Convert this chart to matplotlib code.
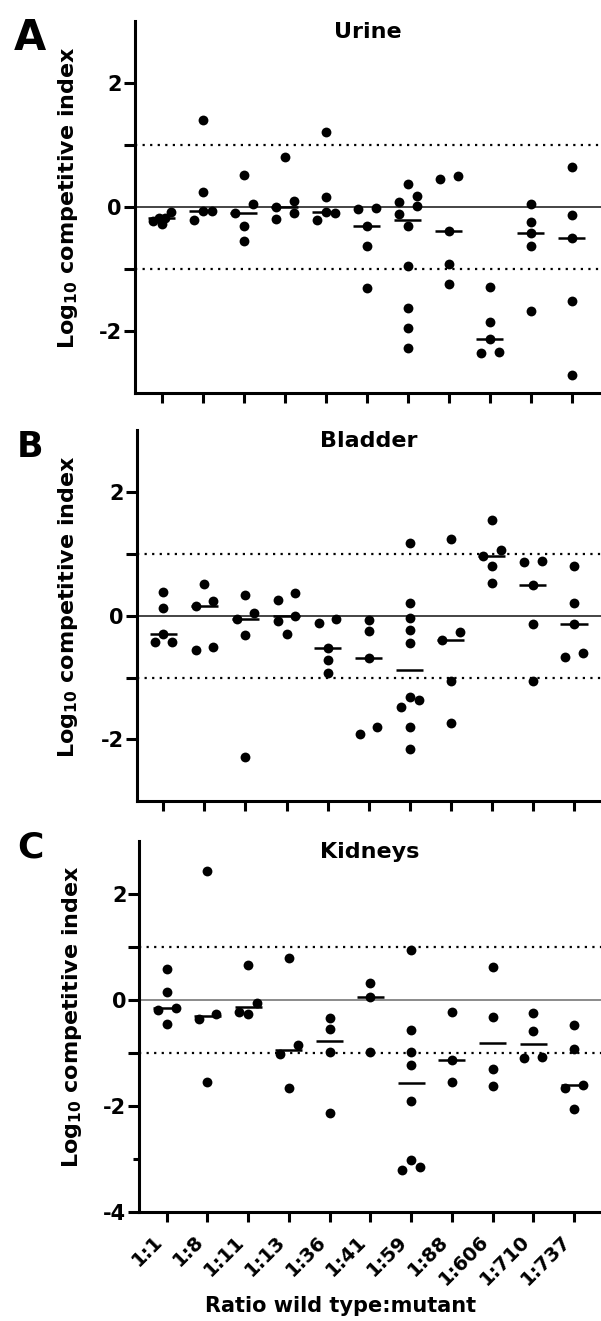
import numpy as np
import matplotlib
matplotlib.use('Agg')
import matplotlib.pyplot as plt

plt.rcParams['font.family'] = ['DejaVu Sans']
plt.rcParams['font.weight'] = 'bold'
plt.rcParams['axes.labelweight'] = 'bold'
plt.rcParams['mathtext.default'] = 'bf'
plt.rcParams['axes.unicode_minus'] = False

ratios = ['1:1', '1:8', '1:11', '1:13', '1:36', '1:41', '1:59', '1:88', '1:606', '1:710', '1:737']

# log10 competitive index per mouse, one list per ratio
urine = [
    [-0.07, -0.17, -0.18, -0.22, -0.27],
    [1.41, 0.24, -0.06, -0.06, -0.20],
    [0.52, 0.05, -0.09, -0.30, -0.54],
    [0.81, 0.10, 0.01, -0.10, -0.19],
    [1.22, 0.16, -0.07, -0.10, -0.20],
    [-0.01, -0.02, -0.30, -0.62, -1.30],
    [0.38, 0.18, 0.09, 0.02, -0.11, -0.30, -0.95, -1.63, -1.95, -2.27],
    [0.51, 0.45, -0.38, -0.91, -1.24],
    [-1.29, -1.85, -2.13, -2.33, -2.35],
    [0.06, -0.24, -0.41, -0.63, -1.67],
    [0.65, -0.12, -0.50, -1.51, -2.71],
]
bladder = [
    [0.39, 0.12, -0.29, -0.42, -0.42],
    [0.51, 0.23, 0.16, -0.50, -0.56],
    [0.34, 0.04, -0.06, -0.32, -2.29],
    [0.37, 0.25, 0.00, -0.09, -0.30],
    [-0.06, -0.11, -0.52, -0.72, -0.92],
    [-0.07, -0.25, -0.68, -1.80, -1.91],
    [1.17, 0.21, -0.04, -0.23, -0.44, -1.32, -1.36, -1.47, -1.80, -2.16],
    [1.24, -0.27, -0.40, -1.05, -1.73],
    [1.55, 1.07, 0.96, 0.81, 0.53],
    [0.88, 0.87, 0.50, -0.13, -1.05],
    [0.80, 0.20, -0.14, -0.61, -0.66],
]
kidneys = [
    [0.58, 0.16, -0.15, -0.18, -0.45],
    [2.44, -0.26, -0.36, -1.54],
    [0.66, -0.05, -0.22, -0.26],
    [0.80, -0.85, -1.02, -1.67],
    [-0.34, -0.54, -0.99, -2.13],
    [0.33, 0.06, -0.99],
    [0.94, -0.57, -0.99, -1.23, -1.90, -3.03, -3.16, -3.21],
    [-0.22, -1.13, -1.54],
    [0.62, -0.33, -1.30, -1.62],
    [-0.25, -0.58, -1.08, -1.10],
    [-0.47, -0.93, -1.61, -1.66, -2.05],
]

W, H = 601, 1321
fig = plt.figure(figsize=(W / 100, H / 100), dpi=100)

# layout in pixels: spine x, top/bottom y, first tick x and tick spacing
panels = [
    dict(data=urine, title='Urine', letter='A', left=134.5, top=21.3, bottom=393.3,
         x0=161.7, dx=41.0, ylim=(-3, 3), zero='#111111',
         letter_xy=(30, 50), letter_size=30, ylab_xy=(68, 198)),
    dict(data=bladder, title='Bladder', letter='B', left=136.7, top=430.2, bottom=801.2,
         x0=163.3, dx=41.07, ylim=(-3, 3), zero='#111111',
         letter_xy=(30, 457), letter_size=25, ylab_xy=(68, 607)),
    dict(data=kidneys, title='Kidneys', letter='C', left=139.3, top=841.2, bottom=1211.8,
         x0=166.7, dx=40.73, ylim=(-4, 3), zero='#6b6b6b',
         letter_xy=(30, 858), letter_size=26, ylab_xy=(72, 1017)),
]


def swarm(vals, ax, diam=9.8, step=8.8):
    # GraphPad-like rows: points closer than a dot diameter share a row
    p0 = ax.transData.transform((0, 0))
    p1 = ax.transData.transform((1, 1))
    xpx, ypx = abs(p1[0] - p0[0]), abs(p1[1] - p0[1])
    vals = np.asarray(vals)
    order = np.argsort(-vals, kind='stable')
    rows = []
    for idx in order:
        if rows and (vals[rows[-1][0]] - vals[idx]) * ypx < diam:
            rows[-1].append(idx)
        else:
            rows.append([idx])
    offs = np.zeros(len(vals))
    for row in rows:
        n = len(row)
        if n == 1:
            slots = [0]
        elif n == 2:
            slots = [1, -1]
        elif n == 3:
            slots = [0, 1, -1]
        else:
            slots = np.linspace(1, -1, n)
        for idx, s in zip(row, slots):
            offs[idx] = s * step / xpx
    return offs


for k, p in enumerate(panels):
    ax = fig.add_axes([p['left'] / W, 1 - p['bottom'] / H,
                       (W - p['left']) / W, (p['bottom'] - p['top']) / H])
    ax.set_xlim((p['left'] - p['x0']) / p['dx'], (W - p['x0']) / p['dx'])
    ax.set_ylim(*p['ylim'])
    for s in ['top', 'right']:
        ax.spines[s].set_visible(False)
    for s in ['left', 'bottom']:
        ax.spines[s].set_linewidth(2.2)

    ax.axhline(0, color=p['zero'], lw=1.1, zorder=1)
    for y in (1, -1):
        ax.axhline(y, color='black', lw=1.6, ls=(0, (1, 2.4)), zorder=1)

    for i, vals in enumerate(p['data']):
        offs = swarm(vals, ax)
        ax.scatter(i + offs, vals, s=50, color='black', linewidths=0, zorder=3, clip_on=False)
        ax.hlines(np.median(vals), i - 0.33, i + 0.33, color='black', lw=1.8, zorder=4)

    lo, hi = p['ylim']
    if lo == -4:
        yt = [-4, -2, -1, 0, 1, 2]
        ax.set_yticks([-3], minor=True)
    else:
        yt = [-2, -1, 0, 1, 2]
    ax.set_yticks(yt)
    ax.set_yticklabels([str(t) if t % 2 == 0 else '' for t in yt])
    ax.tick_params(axis='y', which='major', length=7.8, width=2.2, pad=1.5, labelsize=15)
    ax.tick_params(axis='y', which='minor', length=4.5, width=2.2)
    ax.set_xticks(range(len(ratios)))
    ax.tick_params(axis='x', length=7.5, width=2.2, pad=7)
    if k == 2:
        ax.set_xticklabels(ratios, rotation=45, ha='right', fontsize=14)
    else:
        ax.set_xticklabels([])

    ax.text(0.5, 1 - 17 / (p['bottom'] - p['top']), p['title'], transform=ax.transAxes,
            ha='center', va='baseline', fontsize=16)

    lx, ly = p['letter_xy']
    fig.text(lx / W, 1 - ly / H, p['letter'], ha='center', va='baseline',
             fontsize=p['letter_size'])
    yx, yy = p['ylab_xy']
    fig.text(yx / W, 1 - yy / H, r'Log$_{10}$ competitive index', rotation=90,
             ha='center', va='center', fontsize=16)

fig.text(341 / W, 1 - 1311.7 / H, 'Ratio wild type:mutant', ha='center', va='baseline',
         fontsize=15)

fig.savefig('out.png', dpi=100)
